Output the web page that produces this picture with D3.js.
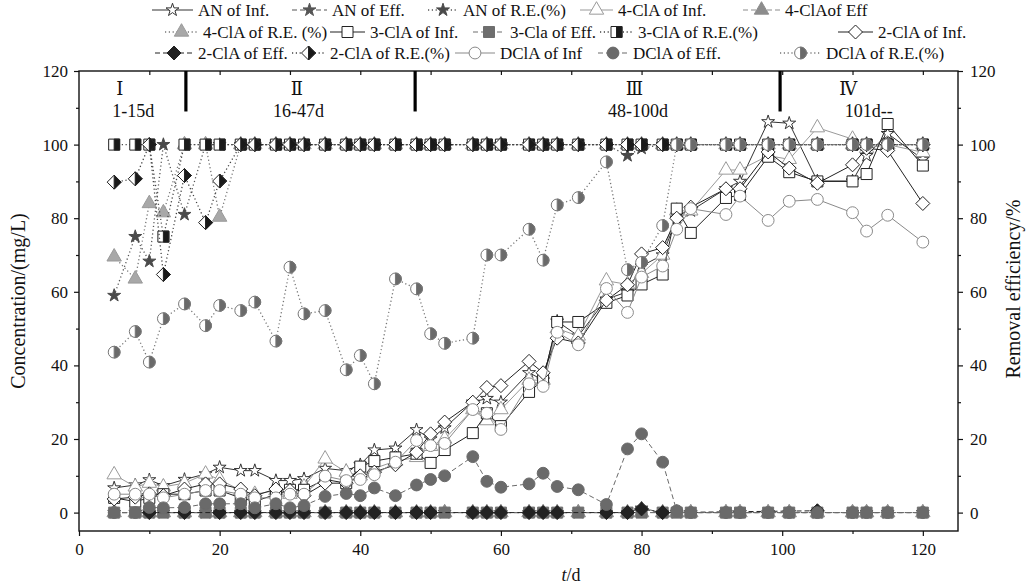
<!DOCTYPE html>
<html>
<head>
<meta charset="utf-8">
<script src="https://cdn.jsdelivr.net/npm/d3@7"></script>
<style>
  body { margin: 0; background: #fff; }
  svg { display: block; }
  text { font-family: "Liberation Serif", "Times New Roman", "DejaVu Serif", serif; fill: #111; }
</style>
</head>
<body>
<svg id="chart" width="1032" height="584"></svg>
<script>
// Sampling days (t/d)
const days = [5,8,10,12,15,18,20,23,25,28, 30,32,35,38,40,42,45,48,50,52,
              56,58,60,64,66,68,71,75,78,80, 83,85,87,92,94,98,101,105,110,112, 115,120];

// Aniline (AN)
const anInf = [6.7,7.5,8.9,7.3,9.0,10.5,12.3,11.4,11.4,8.7, 8.7,9.2,12.0,11.4,13.0,17.0,17.5,22.5,20.0,23.0,
               30.0,31.0,30.0,38.0,36.0,52.0,48.0,58.0,60.0,67.0, 70.0,80.0,82.0,88.0,90.0,106.2,105.8,90.1,90.1,97.0, 103.0,96.0];
const anEff = [0,0,0,0,0,0,0,0,0,0, 0,0,0,0,0,0,0,0,0,0,
               0,0,0,0,0,0,0,0,0,1.2, 0,0,0,0,0,0,0,0,0,0, 0,0];
const anRE  = [59,75,68.3,100,81,100,100,100,100,100, 100,100,100,100,100,100,100,100,100,100,
               100,100,100,100,100,100,100,100,97,99, 100,100,100,100,100,100,100,100,100,100, 100,100];

// 4-chloroaniline (4-ClA)
const cla4Inf = [10.3,7.0,8.0,7.0,8.0,10.5,9.0,6.0,5.0,6.0, 5.0,7.0,14.6,11.0,10.0,12.0,14.0,15.0,18.0,20.0,
                 28.0,25.0,28.0,36.0,36.0,50.0,48.0,63.0,62.0,65.0, 70.0,82.0,82.0,93.1,93.1,97.0,96.0,104.6,101.5,99.0, 100.0,97.9];
const cla4Eff = [0,0,0,0,0,0,0,0,0,0, 0,0,0,0,0,0,0,0,0,0,
                 0,0,0,0,0,0,0,0,0,0, 0,0,0,0,0,0,0,0,0,0, 0,0];
const cla4RE  = [69.5,63.5,84,81.5,100,100,80.3,100,100,100, 100,100,100,100,100,100,100,100,100,100,
                 100,100,100,100,100,100,100,100,100,100, 100,100,100,100,100,100,100,100,100,100, 100,100];

// 3-chloroaniline (3-ClA)
const cla3Inf = [4,3,4,5,5,6,6,4,3,5, 6.2,6.2,9,8,12.5,14,15,16,13.5,17,
                 21.6,27,23.5,32.8,36,51.8,51.8,57,59,62, 64.7,82.6,76,85.5,86.3,96.7,92.5,90,90,92, 105.6,94.3];
const cla3Eff = [0,0,0,0,0,0,0,0,0,0, 0,0,0,0,0,0,0,0,0,0,
                 0,0,0,0,0,0,0,0,0,0, 0,0,0,0,0,0,0,0,0,0, 0,0];
const cla3RE  = [100,100,100,75,100,100,100,100,100,100, 100,100,100,100,100,100,100,100,100,100,
                 100,100,100,100,100,100,100,100,100,100, 100,100,100,100,100,100,100,100,100,100, 100,100];

// 2-chloroaniline (2-ClA)
const cla2Inf = [3.7,4.2,5.1,4.6,6.4,7.8,7.8,6.4,4.6,6.4, 6,4.6,8,8,10,11,13,16.4,21.4,24.6,
                 30,34,34.5,41.1,38,47.4,46.1,57.7,61.9,70.3, 72,80,83,88,88,98,93.6,89.5,94.5,99, 98.4,84];
const cla2Eff = [null,null,0,null,0,null,0,0,0,0, 0,0,0,0,0,0,0,0,0,null,
                 0,0,0,0,0,0,null,0,0,1.0, 0,null,null,null,null,null,null,0.5,null,null, null,null];
const cla2RE  = [89.8,90.7,100,64.7,91.6,78.8,90.1,100,100,100, 100,100,100,100,100,100,100,100,100,100,
                 100,100,100,100,100,100,100,100,100,100, 100,100,100,100,100,100,100,100,100,100, 100,100];

// Dichloroaniline (DClA)
const dclaInf = [5,5,5,4,5,6,6,5,4,4, 5,5,9.9,8.7,9,10.3,13.7,19.6,18.2,18.8,
                 28,27,22.6,35,34.3,49,45.6,60.9,54.4,64, 67,77,82.6,81,86,79.4,84.6,85.1,81.5,76.5, 80.8,73.5];
const dclaEff = [0,0,1.4,1.3,1.4,2.4,2.4,2.4,1.3,2.4, 1.3,1.9,4.4,5.2,4.6,6.7,4.6,7.5,9,10,
                 15.2,8.5,6.9,7.8,10.7,7.1,6.2,2.2,17.3,21.4, 13.7,0.5,0,0,0,0,0,0,0,0, 0,0];
const dclaRE  = [43.6,49.2,40.9,52.7,56.7,50.8,56.3,54.9,57.2,46.6, 66.7,54,54.9,38.8,42.7,35,63.5,60.8,48.6,46,
                 47.4,70,70,77,68.6,83.6,85.6,95.3,66,68, 78,100,100,100,100,100,100,100,100,100, 100,100];

// Operating phases
const phaseBreaks = [15.2, 47.8, 99.7];
const phaseNames  = ["Ⅰ", "Ⅱ", "Ⅲ", "Ⅳ"];
const phaseRanges = ["1-15d", "16-47d", "48-100d", "101d--"];

// Axis ticks
const xTicks = [0, 20, 40, 60, 80, 100, 120];
const yTicks = [0, 20, 40, 60, 80, 100, 120];

// ---------------------------------------------------------------
const svg = d3.select("#chart");
const plot = { left: 79, right: 958, top: 71, bottom: 531 };

const x  = d3.scaleLinear().domain([0, 125]).range([plot.left, plot.right]);
const y  = d3.scaleLinear().domain([-5, 120]).range([plot.bottom, plot.top]);
const yR = d3.scaleLinear().domain([-5, 120]).range([plot.bottom, plot.top]);

const DASH = "5,3", DOT = "1.2,2.6";

// series styling: shape, fill, stroke, line colour, dash, half-fill colour, axis
const series = [
  { key: "AN of Inf.",        v: anInf,   shape: "star",     fill: "#fff",    stroke: "#333", line: "#333", dash: null },
  { key: "AN of Eff.",        v: anEff,   shape: "star",     fill: "#555",    stroke: "#555", line: "#555", dash: DASH },
  { key: "AN of R.E.(%)",     v: anRE,    shape: "star",     fill: "#4a4a4a", stroke: "#4a4a4a", line: "#555", dash: DOT, right: true },
  { key: "4-ClA of Inf.",     v: cla4Inf, shape: "triangle", fill: "#fff",    stroke: "#9a9a9a", line: "#9a9a9a", dash: null },
  { key: "4-ClAof Eff",       v: cla4Eff, shape: "triangle", fill: "#8c8c8c", stroke: "#8c8c8c", line: "#8c8c8c", dash: DASH },
  { key: "4-ClA of R.E. (%)", v: cla4RE,  shape: "triangle", fill: "#a8a8a8", stroke: "#9a9a9a", line: "#777", dash: DOT, right: true },
  { key: "3-ClA of Inf.",     v: cla3Inf, shape: "square",   fill: "#fff",    stroke: "#222", line: "#222", dash: null },
  { key: "3-Cla of Eff.",     v: cla3Eff, shape: "square",   fill: "#6e6e6e", stroke: "#6e6e6e", line: "#6e6e6e", dash: DASH },
  { key: "3-ClA of R.E.(%)",  v: cla3RE,  shape: "square",   fill: "#fff",    stroke: "#222", line: "#444", dash: DOT, half: "#1a1a1a", right: true },
  { key: "2-ClA of Inf.",     v: cla2Inf, shape: "diamond",  fill: "#fff",    stroke: "#222", line: "#222", dash: null },
  { key: "2-ClA of Eff.",     v: cla2Eff, shape: "diamond",  fill: "#222",    stroke: "#222", line: "#222", dash: DASH },
  { key: "2-ClA of R.E.(%)",  v: cla2RE,  shape: "diamond",  fill: "#fff",    stroke: "#222", line: "#444", dash: DOT, half: "#1a1a1a", right: true },
  { key: "DClA of Inf",       v: dclaInf, shape: "circle",   fill: "#fff",    stroke: "#8a8a8a", line: "#8a8a8a", dash: null },
  { key: "DClA of Eff.",      v: dclaEff, shape: "circle",   fill: "#6a6a6a", stroke: "#6a6a6a", line: "#6a6a6a", dash: DASH },
  { key: "DClA of R.E.(%)",   v: dclaRE,  shape: "circle",   fill: "#fff",    stroke: "#777", line: "#777", dash: DOT, half: "#6a6a6a", right: true }
];

function shapePath(shape) {
  switch (shape) {
    case "square":   return "M-5.5,-5.5H5.5V5.5H-5.5Z";
    case "diamond":  return "M0,-7L7,0L0,7L-7,0Z";
    case "circle":   return d3.symbol(d3.symbolCircle, 110)();
    case "triangle": return d3.symbol(d3.symbolTriangle, 90)();
    case "star":     return d3.symbol(d3.symbolStar, 52)();
  }
}
function halfPath(shape) {
  switch (shape) {
    case "square":  return "M0,-5.5H5.5V5.5H0Z";
    case "diamond": return "M0,-7L7,0L0,7Z";
    case "circle":  return "M0,-5.9A5.9,5.9 0 0 1 0,5.9Z";
  }
  return null;
}

function drawMarker(g, s) {
  g.append("path").attr("d", shapePath(s.shape))
    .attr("fill", s.fill).attr("stroke", s.stroke).attr("stroke-width", 1);
  if (s.half) {
    g.append("path").attr("d", halfPath(s.shape))
      .attr("fill", s.half).attr("stroke", s.stroke).attr("stroke-width", 1);
  }
}

// ---- axes ----
const axisG = svg.append("g").attr("class", "axes");

function styleAxis(g) {
  g.select(".domain").remove();
  g.selectAll(".tick line").attr("stroke", "#111").attr("stroke-width", 1.2);
  g.selectAll(".tick text").style("font-size", "17px").attr("fill", "#111");
}

axisG.append("g").attr("transform", `translate(0,${plot.bottom})`)
  .call(d3.axisBottom(x).tickValues(xTicks).tickSize(5).tickPadding(7).tickFormat(d3.format("d")))
  .call(styleAxis);
axisG.append("g").attr("transform", `translate(0,${plot.bottom})`)
  .call(d3.axisBottom(x).tickValues(d3.range(10, 125, 20)).tickSize(3).tickFormat(""))
  .call(styleAxis);
axisG.append("g").attr("transform", `translate(0,${plot.top})`)
  .call(d3.axisBottom(x).tickValues(d3.range(10, 125, 10)).tickSize(4).tickFormat(""))
  .call(styleAxis);

axisG.append("g").attr("transform", `translate(${plot.left},0)`)
  .call(d3.axisLeft(y).tickValues(yTicks).tickSize(5).tickPadding(6).tickFormat(d3.format("d")))
  .call(styleAxis);
axisG.append("g").attr("transform", `translate(${plot.left},0)`)
  .call(d3.axisLeft(y).tickValues(d3.range(10, 120, 20)).tickSize(3).tickFormat(""))
  .call(styleAxis);

axisG.append("g").attr("transform", `translate(${plot.right},0)`)
  .call(d3.axisRight(yR).tickValues(yTicks).tickSize(5).tickPadding(7).tickFormat(d3.format("d")))
  .call(styleAxis);
axisG.append("g").attr("transform", `translate(${plot.right},0)`)
  .call(d3.axisRight(yR).tickValues(d3.range(10, 120, 20)).tickSize(3).tickFormat(""))
  .call(styleAxis);

// frame
svg.append("rect")
  .attr("x", plot.left).attr("y", plot.top)
  .attr("width", plot.right - plot.left).attr("height", plot.bottom - plot.top)
  .attr("fill", "none").attr("stroke", "#111").attr("stroke-width", 1.4);

// axis titles
svg.append("text")
  .attr("transform", `translate(25,${(plot.top + plot.bottom) / 2}) rotate(-90)`)
  .attr("text-anchor", "middle").style("font-size", "20px")
  .text("Concentration/(mg/L)");
svg.append("text")
  .attr("transform", `translate(1020,${(plot.top + plot.bottom) / 2 - 12}) rotate(-90)`)
  .attr("text-anchor", "middle").style("font-size", "20px")
  .text("Removal efficiency/%");
svg.append("text")
  .attr("x", 571).attr("y", 581).attr("text-anchor", "middle").style("font-size", "18px")
  .html('<tspan font-style="italic">t</tspan>/d');

// ---- phase dividers & labels ----
svg.append("g").selectAll("line").data(phaseBreaks).join("line")
  .attr("x1", d => x(d)).attr("x2", d => x(d))
  .attr("y1", plot.top).attr("y2", y(109))
  .attr("stroke", "#000").attr("stroke-width", 3.2);

const phaseLabelX  = [5.8, 31, 79, 109.4];
const phaseRangeX  = [7.7, 31.2, 79.5, 112.3];
svg.append("g").selectAll("text").data(phaseNames).join("text")
  .attr("x", (d, i) => x(phaseLabelX[i])).attr("y", 95)
  .attr("text-anchor", "middle").style("font-size", "18px")
  .text(d => d);
svg.append("g").selectAll("text").data(phaseRanges).join("text")
  .attr("x", (d, i) => x(phaseRangeX[i])).attr("y", 117)
  .attr("text-anchor", "middle").style("font-size", "18px")
  .text(d => d);

// ---- series ----
const dataG = svg.append("g");
series.forEach(s => {
  const sc = s.right ? yR : y;
  const pts = days.map((d, i) => ({ d, v: s.v[i] })).filter(p => p.v != null);
  const line = d3.line().x(p => x(p.d)).y(p => sc(p.v));
  const g = dataG.append("g");
  g.append("path").datum(pts).attr("d", line)
    .attr("fill", "none").attr("stroke", s.line).attr("stroke-width", s.dash === DOT ? 1.3 : 1)
    .attr("stroke-dasharray", s.dash);
  g.selectAll("g.m").data(pts).join("g").attr("class", "m")
    .attr("transform", p => `translate(${x(p.d)},${sc(p.v)})`)
    .each(function () { drawMarker(d3.select(this), s); });
});

// ---- legend ----
const legendRowsY = [10, 32, 53];
const legendPos = [
  [152, 198], [292, 332], [428, 463], [580, 618], [743, 785],
  [165, 203], [330, 370], [473, 510], [600, 638], [838, 878],
  [155, 198], [292, 330], [455, 500], [598, 633], [780, 826]
];
const legG = svg.append("g");
series.forEach((s, i) => {
  const row = Math.floor(i / 5);
  const yy = legendRowsY[row];
  const [x0, xt] = legendPos[i];
  const x1 = xt - 5;
  const g = legG.append("g");
  g.append("line").attr("x1", x0).attr("x2", x1).attr("y1", yy).attr("y2", yy)
    .attr("stroke", s.line).attr("stroke-width", s.dash === DOT ? 1.3 : 1.2)
    .attr("stroke-dasharray", s.dash);
  const mg = g.append("g").attr("transform", `translate(${(x0 + x1) / 2},${yy})`);
  drawMarker(mg, s);
  g.append("text").attr("x", xt).attr("y", yy + 6).style("font-size", "17px").text(s.key);
});
</script>
</body>
</html>
